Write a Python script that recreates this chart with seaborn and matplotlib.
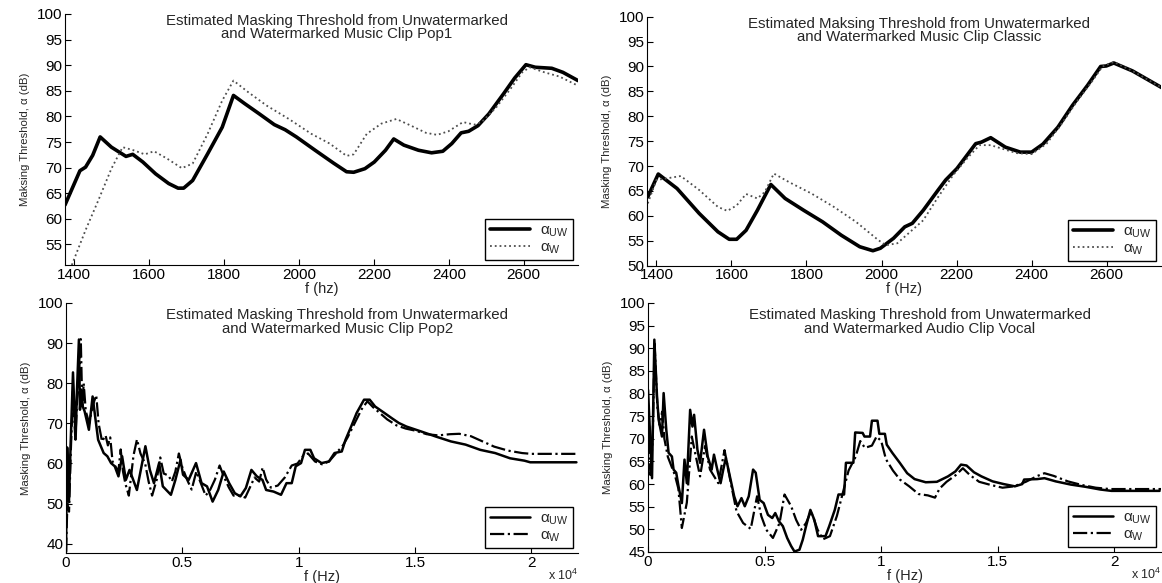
import matplotlib
matplotlib.use("Agg")
import matplotlib.pyplot as plt
import seaborn as sns
import numpy as np

# ---- Pop1 (top left) ----
pop1_f_uw = [1375, 1415, 1430, 1449, 1469, 1499, 1538, 1556, 1583, 1617, 1652, 1677, 1692, 1716, 1756,
             1795, 1825, 1855, 1894, 1934, 1963, 1993, 2043, 2092, 2127, 2146, 2176, 2201, 2231, 2253,
             2280, 2319, 2354, 2384, 2408, 2433, 2453, 2478, 2507, 2547, 2576, 2606, 2631, 2675, 2705, 2745]
pop1_uw = [62.7, 69.4, 70.1, 72.4, 76.0, 74.0, 72.2, 72.6, 71.1, 68.8, 66.9, 66.0, 66.0, 67.5, 72.7,
           77.9, 84.1, 82.5, 80.5, 78.4, 77.4, 76.0, 73.4, 70.9, 69.2, 69.1, 69.8, 71.1, 73.4, 75.6,
           74.4, 73.4, 72.9, 73.2, 74.7, 76.8, 77.1, 78.2, 80.5, 84.5, 87.5, 90.1, 89.6, 89.4, 88.6, 87.0]
pop1_f_w = [1375, 1395, 1430, 1464, 1499, 1529, 1558, 1588, 1613, 1647, 1687, 1716, 1756, 1795, 1825,
            1865, 1914, 1973, 2033, 2082, 2127, 2146, 2181, 2220, 2260, 2299, 2339, 2369, 2399, 2438,
            2468, 2488, 2527, 2567, 2596, 2616, 2656, 2695, 2745]
pop1_w = [47.5, 51.3, 57.8, 63.6, 69.8, 74.0, 73.4, 72.6, 73.2, 71.8, 69.9, 70.8, 76.6, 83.1, 87.0,
          84.7, 82.1, 79.5, 76.6, 74.7, 72.3, 72.6, 76.6, 78.6, 79.5, 78.2, 76.8, 76.4, 77.1, 78.9,
          78.4, 78.9, 81.8, 85.6, 88.6, 89.6, 88.6, 87.8, 86.0]

# ---- Classic (top right) ----
cls_f_uw = [1377, 1405, 1455, 1514, 1564, 1594, 1614, 1639, 1669, 1705, 1743, 1793, 1843, 1893, 1942,
            1977, 1997, 2032, 2062, 2082, 2111, 2151, 2171, 2201, 2251, 2266, 2291, 2330, 2370, 2400,
            2430, 2470, 2509, 2549, 2584, 2599, 2619, 2669, 2748]
cls_uw = [63.8, 68.4, 65.5, 60.5, 56.8, 55.3, 55.3, 57.1, 61.1, 66.3, 63.5, 61.1, 58.8, 56.1, 53.8,
          53.0, 53.5, 55.5, 57.8, 58.5, 61.1, 65.2, 67.2, 69.5, 74.5, 74.8, 75.7, 73.8, 72.8, 72.8,
          74.4, 77.8, 82.2, 86.2, 90.0, 90.1, 90.7, 89.1, 85.7]
cls_f_w = [1377, 1400, 1425, 1465, 1514, 1564, 1589, 1614, 1639, 1669, 1689, 1713, 1753, 1813, 1873,
           1932, 1992, 2012, 2042, 2072, 2111, 2151, 2191, 2231, 2261, 2291, 2321, 2360, 2400, 2440,
           2480, 2519, 2559, 2589, 2619, 2669, 2748]
cls_w = [62.5, 67.2, 67.5, 68.0, 65.2, 61.8, 61.0, 62.1, 64.4, 63.5, 64.8, 68.5, 66.8, 64.5, 61.8,
         58.8, 55.1, 54.1, 54.5, 56.5, 59.1, 63.8, 68.2, 71.8, 74.2, 74.2, 73.5, 72.6, 72.4, 74.5,
         78.5, 82.8, 86.8, 90.0, 90.9, 89.1, 85.7]

# ---- Pop2 (bottom left) ----
pop2_f_uw = [0, 50, 127, 200, 300, 413, 470, 555, 600, 660, 720, 800, 984, 1143, 1270, 1381, 1619, 1777,
             1936, 2095, 2254, 2412, 2571, 2730, 3047, 3412, 3603, 3780, 4000, 4160, 4508, 4700, 4920,
             5030, 5270, 5587, 5825, 6060, 6300, 6540, 6777, 7010, 7253, 7491, 7730, 7967, 8200, 8443,
             8600, 8919, 9240, 9475, 9700, 9871, 10100, 10268, 10500, 10660, 10982, 11300, 11537, 11850,
             12010, 12252, 12490, 12807, 13050, 13283, 13680, 13997, 14300, 14632, 15250, 15901, 16540,
             17171, 17800, 18441, 19080, 19700, 19949, 21933]
pop2_uw = [38.0, 64.0, 50.5, 65.0, 82.7, 66.0, 78.0, 90.9, 73.4, 78.4, 74.2, 73.0, 68.4, 76.7, 70.9,
           65.9, 62.6, 61.8, 60.1, 59.3, 56.8, 61.8, 55.9, 58.4, 53.4, 64.3, 58.4, 55.1, 60.1, 54.3,
           52.2, 55.9, 60.9, 57.2, 55.9, 60.1, 55.1, 54.3, 50.5, 53.4, 58.0, 55.1, 52.6, 51.8, 53.9,
           58.4, 56.8, 55.9, 53.4, 53.0, 52.2, 55.1, 55.1, 59.3, 60.1, 63.4, 63.4, 61.3, 60.1, 60.5,
           62.6, 63.0, 65.9, 69.2, 72.6, 75.9, 75.9, 74.2, 72.6, 71.3, 70.1, 69.2, 68.0, 66.7, 65.5,
           64.7, 63.4, 62.6, 61.3, 60.7, 60.3, 60.3]
pop2_f_w = [0, 60, 130, 200, 300, 400, 480, 560, 635, 700, 760, 850, 1000, 1150, 1300, 1400, 1550, 1700,
            1800, 1900, 2000, 2100, 2250, 2350, 2450, 2550, 2700, 2900, 3050, 3200, 3400, 3550, 3700,
            3900, 4050, 4200, 4400, 4550, 4700, 4850, 5000, 5200, 5400, 5600, 5800, 6000, 6200, 6400,
            6600, 6800, 7000, 7200, 7500, 7700, 7900, 8100, 8300, 8450, 8600, 8800, 9100, 9400, 9700,
            9950, 10200, 10400, 10700, 11000, 11300, 11600, 11900, 12100, 12400, 12700, 12950, 13200,
            13500, 13800, 14200, 14600, 15000, 15500, 16000, 16500, 16900, 17400, 17900, 18400, 19000,
            19600, 20000, 22000]
pop2_w = [38.0, 50.0, 48.0, 62.0, 78.0, 66.0, 76.0, 80.0, 91.0, 74.0, 80.0, 73.0, 70.0, 74.5, 77.0,
          70.0, 65.5, 67.0, 64.5, 66.5, 60.5, 59.5, 58.0, 63.5, 58.0, 55.0, 52.0, 62.0, 66.0, 62.5,
          60.0, 55.5, 52.0, 56.0, 61.5, 57.5, 57.0, 55.5, 58.0, 62.5, 59.0, 56.0, 53.5, 58.0, 55.0,
          52.0, 53.5, 56.0, 59.5, 56.5, 54.0, 52.0, 52.0, 51.5, 54.0, 56.5, 55.5, 59.0, 56.0, 54.0,
          54.5, 56.5, 59.5, 60.0, 62.0, 62.5, 60.5, 59.8, 60.5, 62.5, 64.5, 66.5, 70.0, 73.5, 75.5,
          74.0, 72.5, 71.0, 69.5, 68.7, 68.2, 67.3, 67.0, 67.3, 67.4, 66.8, 65.5, 64.2, 63.2, 62.6,
          62.4, 62.4]

# ---- Vocal (bottom right) ----
voc_f_uw = [0, 170, 270, 384, 455, 597, 668, 782, 881, 1023, 1094, 1208, 1307, 1450, 1563, 1663, 1805,
            1904, 1975, 2117, 2231, 2401, 2557, 2728, 2827, 2969, 3111, 3225, 3338, 3509, 3693, 3835,
            4006, 4148, 4319, 4504, 4617, 4787, 4958, 5142, 5327, 5455, 5611, 5781, 5966, 6137, 6279,
            6492, 6634, 6776, 6961, 7131, 7291, 7610, 7769, 8008, 8167, 8406, 8486, 8804, 8883, 9202,
            9281, 9520, 9600, 9839, 9918, 10157, 10236, 10475, 10794, 11112, 11430, 11908, 12386, 12863,
            13182, 13421, 13659, 13978, 14296, 14774, 15251, 15729, 16047, 16127, 16684, 17002, 17480,
            18117, 18754, 19391, 19868, 21938]
voc_uw = [80.8, 61.3, 91.9, 79.4, 74.2, 70.5, 80.1, 72.0, 66.9, 66.1, 63.2, 62.5, 59.5, 55.8, 65.4,
          60.2, 76.4, 72.7, 75.3, 67.6, 64.7, 72.0, 66.1, 63.2, 66.5, 63.2, 60.2, 63.2, 65.8, 61.7,
          57.3, 55.1, 56.9, 55.1, 57.3, 63.2, 62.5, 56.5, 55.8, 53.2, 52.5, 53.6, 51.8, 50.7, 48.1,
          46.3, 45.1, 45.5, 47.7, 50.7, 54.3, 52.1, 48.5, 48.5, 50.7, 54.3, 57.7, 57.7, 64.7, 64.7,
          71.4, 71.3, 70.5, 70.5, 74.0, 74.0, 71.1, 71.1, 68.7, 66.9, 64.7, 62.4, 61.1, 60.4, 60.5,
          61.7, 62.8, 64.3, 64.1, 62.6, 61.7, 60.6, 60.0, 59.5, 60.0, 61.0, 61.1, 61.3, 60.6, 59.9,
          59.4, 58.8, 58.5, 58.5]
voc_f_w = [0, 100, 200, 280, 400, 500, 605, 700, 850, 1000, 1150, 1300, 1450, 1663, 1876, 2018, 2231,
           2444, 2657, 3012, 3280, 3509, 3793, 4077, 4404, 4674, 4858, 5071, 5355, 5639, 5852, 6137,
           6350, 6563, 6776, 6989, 7273, 7500, 7800, 8100, 8300, 8600, 8900, 9100, 9300, 9600, 9800,
           10000, 10200, 10500, 10800, 11200, 11600, 12000, 12306, 12500, 12800, 13200, 13500, 13800,
           14200, 14700, 15200, 15700, 16200, 16700, 17000, 17400, 18000, 18600, 19200, 19800, 22000]
voc_w = [75.0, 62.0, 70.0, 91.0, 77.0, 73.0, 76.0, 70.0, 66.0, 64.0, 62.0, 59.0, 50.3, 55.9, 70.5,
         66.9, 61.7, 68.4, 63.2, 60.2, 67.5, 61.3, 54.0, 51.4, 50.1, 57.3, 52.9, 49.9, 48.1, 51.4,
         57.7, 55.1, 52.1, 49.9, 51.4, 54.0, 49.9, 47.8, 48.5, 53.0, 57.0, 63.0, 66.0, 69.5, 68.0,
         68.5, 70.5, 69.5, 65.5, 63.0, 61.0, 59.5, 57.8, 57.5, 57.0, 59.0, 60.5, 62.0, 63.5, 62.0,
         60.5, 59.8, 59.2, 59.5, 60.5, 61.8, 62.4, 61.8, 60.6, 59.8, 59.2, 58.9, 58.9]

titles = ["Estimated Masking Threshold from Unwatermarked\nand Watermarked Music Clip Pop1",
          "Estimated Maksing Threshold from Unwatermarked\nand Watermarked Music Clip Classic",
          "Estimated Masking Threshold from Unwatermarked\nand Watermarked Music Clip Pop2",
          "Estimated Masking Threshold from Unwatermarked\nand Watermarked Audio Clip Vocal"]
ylabels = ["Maksing Threshold, \u03b1 (dB)", "Masking Threshold, \u03b1 (dB)",
           "Masking Threshold, \u03b1 (dB)", "Masking Threshold, \u03b1 (dB)"]
xlabels = ["f (hz)", "f (Hz)", "f (Hz)", "f (Hz)"]

sns.set_style("ticks")
plt.rcParams['font.family'] = ['Liberation Sans', 'DejaVu Sans']
plt.rcParams['mathtext.fontset'] = 'custom'
plt.rcParams['mathtext.rm'] = 'Liberation Sans'
plt.rcParams['mathtext.it'] = 'Liberation Sans'

fig = plt.figure(figsize=(11.62, 5.83), dpi=100)
rects = [[0.0559, 0.5455, 0.4415, 0.4305],
         [0.5568, 0.5443, 0.4424, 0.4271],
         [0.0568, 0.0515, 0.4406, 0.4288],
         [0.5577, 0.0532, 0.4415, 0.4271]]
axes = [fig.add_axes(r) for r in rects]

series = [(pop1_f_uw, pop1_uw, pop1_f_w, pop1_w),
          (cls_f_uw, cls_uw, cls_f_w, cls_w),
          (pop2_f_uw, pop2_uw, pop2_f_w, pop2_w),
          (voc_f_uw, voc_uw, voc_f_w, voc_w)]

for i, ax in enumerate(axes):
    fu, yu, fw, yw = series[i]
    top = i < 2
    sns.lineplot(x=fu, y=yu, ax=ax, color='k', lw=2.6 if top else 1.8,
                 sort=False, estimator=None, label=r'$\alpha_{UW}$')
    if top:
        sns.lineplot(x=fw, y=yw, ax=ax, color='0.3', lw=1.3, linestyle=':',
                     sort=False, estimator=None, label=r'$\alpha_{W}$')
    else:
        sns.lineplot(x=fw, y=yw, ax=ax, color='k', lw=1.6, linestyle='-.',
                     sort=False, estimator=None, label=r'$\alpha_{W}$')

    ax.text(0.53, 1.0 if top else 0.978, titles[i], transform=ax.transAxes,
            ha='center', va='top', fontsize=10.8, linespacing=0.92)
    ax.set_ylabel(ylabels[i], fontsize=8.2, family=['Liberation Sans Narrow', 'Liberation Sans'], labelpad=5)
    ax.set_xlabel(xlabels[i], fontsize=10.5, labelpad=0)

    sns.despine(ax=ax, top=True, right=True)
    for s in ['left', 'bottom']:
        ax.spines[s].set_linewidth(0.8)
        ax.spines[s].set_color('k')
    ax.tick_params(direction='in', length=4, width=0.8, labelsize=11, colors='k', pad=2)

    leg = ax.legend(loc='lower right', fontsize=11, handlelength=2.6, borderaxespad=0.3,
                    frameon=True, fancybox=False, edgecolor='k', framealpha=1, borderpad=0.3,
                    labelspacing=0.1, handletextpad=0.7)
    leg.get_frame().set_linewidth(1.0)

# limits and ticks
axes[0].set_xlim(1375, 2745)
axes[0].set_ylim(51, 100)
axes[0].set_yticks(np.arange(55, 101, 5))
axes[0].set_xticks(np.arange(1400, 2601, 200))

axes[1].set_xlim(1375, 2745)
axes[1].set_ylim(50, 100)
axes[1].set_yticks(np.arange(50, 101, 5))
axes[1].set_xticks(np.arange(1400, 2601, 200))

axes[2].set_xlim(0, 22000)
axes[2].set_ylim(37.7, 100)
axes[2].set_yticks(np.arange(40, 101, 10))

axes[3].set_xlim(0, 22000)
axes[3].set_ylim(45, 100)
axes[3].set_yticks(np.arange(45, 101, 5))

for ax in axes[2:]:
    ax.set_xticks([0, 5000, 10000, 15000, 20000])
    ax.set_xticklabels(['0', '0.5', '1', '1.5', '2'])
    ax.text(1.0, -0.058, r'x 10$^{4}$', transform=ax.transAxes, ha='right', va='top', fontsize=9)

fig.savefig("out.png", dpi=100)
